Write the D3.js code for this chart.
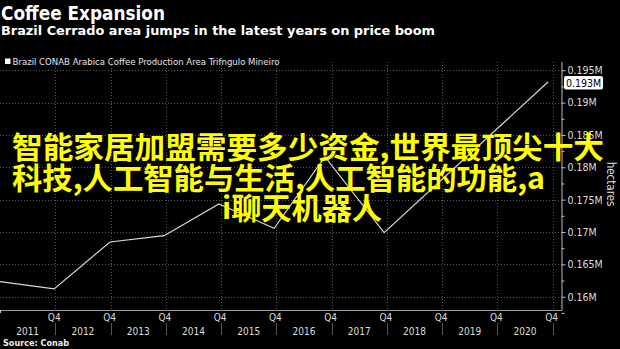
<!DOCTYPE html>
<html>
<head>
<meta charset="utf-8">
<script src="https://cdn.jsdelivr.net/npm/d3@7"></script>
<style>
  html, body { margin: 0; padding: 0; background: #000; }
  svg { display: block; }
</style>
</head>
<body>
<svg id="chart" width="620" height="349"></svg>
<script>
// Brazil CONAB arabica coffee area, Triângulo Mineiro (hectares)
const periods  = [2011.0, 2011.98, 2012.99, 2013.97, 2014.96, 2015.96, 2016.88, 2017.95, 2020.92];
const hectares = [162320, 161210, 168450, 169430, 174330, 170570, 181640, 169890, 193230];

const yearLabels = ["2011", "2012", "2013", "2014", "2015", "2016", "2017", "2018", "2019", "2020"];
const quarterLabel = "Q4";
const yTickValues = [160000, 165000, 170000, 175000, 180000, 185000, 190000, 195000];
const yMinorValues = [157500, 162500, 167500, 172500, 177500, 182500, 187500, 192500];

const titleText = "Coffee Expansion";
const subtitleText = "Brazil Cerrado area jumps in the latest years on price boom";
const legendText = "Brazil CONAB Arabica Coffee Production Area Trifngulo Mineiro";
const sourceText = "Source: Conab";
const unitText = "hectares";
const overlayLines = [
  "智能家居加盟需要多少资金,世界最顶尖十大",
  "科技,人工智能与生活,人工智能的功能,a",
  "i聊天机器人"
];

const svg = d3.select("#chart");
const W = 620, H = 349;
const plot = { left: 0, right: 561.5, top: 62, bottom: 310 };
const uiFont = "'DejaVu Sans Condensed', 'DejaVu Sans', sans-serif";

svg.append("rect").attr("width", W).attr("height", H).attr("fill", "#000");

const x = d3.scaleLinear().domain([2011.0, 2021.16]).range([plot.left, plot.right]);
const y = d3.scaleLinear().domain([157944, 196275]).range([plot.bottom, plot.top]);

// Headings
svg.append("text").attr("x", 1).attr("y", 20)
  .attr("font-family", uiFont).attr("font-weight", "bold").attr("font-size", 20)
  .attr("fill", "#fff").attr("textLength", 164).attr("lengthAdjust", "spacingAndGlyphs")
  .text(titleText);
svg.append("text").attr("x", 1).attr("y", 35)
  .attr("font-family", uiFont).attr("font-weight", "bold").attr("font-size", 12.5)
  .attr("fill", "#fff").attr("textLength", 434).attr("lengthAdjust", "spacingAndGlyphs")
  .text(subtitleText);

// Legend
svg.append("rect").attr("x", 5).attr("y", 58.5).attr("width", 5.5).attr("height", 5.5).attr("fill", "#fff");
svg.append("text").attr("x", 12.5).attr("y", 64.5)
  .attr("font-family", uiFont).attr("font-size", 8.5)
  .attr("fill", "#e6e6e6").attr("textLength", 267).attr("lengthAdjust", "spacingAndGlyphs")
  .text(legendText);

// Grid
const grid = svg.append("g").attr("stroke", "#555").attr("stroke-width", 1)
  .attr("stroke-dasharray", "1,2").attr("shape-rendering", "crispEdges");
grid.selectAll("line.h").data(yTickValues).join("line").attr("class", "h")
  .attr("x1", plot.left).attr("x2", plot.right)
  .attr("y1", d => Math.round(y(d)) + 0.5).attr("y2", d => Math.round(y(d)) + 0.5);
const yearEnds = yearLabels.map(d => +d + 1);
grid.selectAll("line.v").data(yearEnds).join("line").attr("class", "v")
  .attr("y1", plot.top).attr("y2", plot.bottom)
  .attr("x1", d => Math.round(x(d)) + 0.5).attr("x2", d => Math.round(x(d)) + 0.5);

// Series line
const line = d3.line().x((d, i) => x(periods[i])).y(d => y(d));
svg.append("path").datum(hectares)
  .attr("fill", "none").attr("stroke", "#d8d8d8").attr("stroke-width", 1.2)
  .attr("stroke-linejoin", "miter").attr("d", line);

// Right axis
const fmtM = v => (+(v / 1e6).toFixed(3)) + "M";
const yAxis = d3.axisRight(y).tickValues(yTickValues).tickSize(4).tickPadding(2).tickFormat(fmtM);
const gy = svg.append("g").attr("transform", `translate(${plot.right},0)`).call(yAxis);
gy.select(".domain").attr("stroke", "#bbb").attr("d", `M0.5,${plot.top}V${plot.bottom}`);
gy.selectAll(".tick line").attr("stroke", "#bbb");
gy.selectAll(".tick text").attr("fill", "#ddd").attr("font-family", uiFont).attr("font-size", 10.5);
const gyMinor = svg.append("g").attr("transform", `translate(${plot.right},0)`)
  .call(d3.axisRight(y).tickValues(yMinorValues).tickSize(3).tickFormat(""));
gyMinor.select(".domain").remove();
gyMinor.selectAll(".tick line").attr("stroke", "#bbb");

// Unit label
svg.append("text").attr("transform", "translate(607,184) rotate(90)")
  .attr("text-anchor", "middle").attr("font-family", uiFont).attr("font-size", 11.5)
  .attr("fill", "#ddd").text(unitText);

// Last value marker label
const lastVal = hectares[hectares.length - 1];
const ly = y(lastVal) + 1;
svg.append("rect").attr("x", 564).attr("y", ly - 6.8).attr("width", 39).attr("height", 13.5)
  .attr("rx", 2).attr("fill", "#fff");
svg.append("text").attr("x", 566).attr("y", ly + 3.8)
  .attr("font-family", uiFont).attr("font-size", 10.5).attr("fill", "#000").text(fmtM(lastVal));

// Bottom axis
svg.append("line").attr("x1", plot.left).attr("x2", plot.right + 0.5)
  .attr("y1", plot.bottom + 0.5).attr("y2", plot.bottom + 0.5)
  .attr("stroke", "#999").attr("stroke-width", 1);
svg.append("line").attr("x1", 0.5).attr("x2", 0.5).attr("y1", plot.bottom).attr("y2", plot.bottom + 3)
  .attr("stroke", "#ccc");
const gx = svg.append("g");
gx.selectAll("text.q").data(yearEnds).join("text").attr("class", "q")
  .attr("x", d => x(d) - 1).attr("y", 320.5).attr("text-anchor", "middle")
  .attr("font-family", uiFont).attr("font-size", 10).attr("fill", "#ddd").text(quarterLabel);
gx.selectAll("line.sep").data(yearEnds).join("line").attr("class", "sep")
  .attr("x1", d => Math.round(x(d)) + 0.5).attr("x2", d => Math.round(x(d)) + 0.5)
  .attr("y1", 323).attr("y2", 335).attr("stroke", "#555");
gx.selectAll("text.yr").data(yearLabels).join("text").attr("class", "yr")
  .attr("x", d => x(+d + 0.5)).attr("y", 334.5).attr("text-anchor", "middle")
  .attr("font-family", uiFont).attr("font-size", 10).attr("fill", "#ddd").text(d => d);

// Source
svg.append("text").attr("x", 3).attr("y", 346)
  .attr("font-family", uiFont).attr("font-weight", "bold").attr("font-size", 9)
  .attr("fill", "#eee").text(sourceText);

// Overlay caption
const cap = svg.append("g").attr("font-family", "'Noto Sans CJK SC', sans-serif")
  .attr("font-weight", "bold").attr("font-size", 30).attr("fill", "#ffff00");
const capPos = [{ x: 12, y: 158, w: 592 }, { x: 12, y: 188.5, w: 533 }, { x: 222, y: 219, w: 160 }];
cap.selectAll("text").data(overlayLines).join("text")
  .attr("x", (d, i) => capPos[i].x).attr("y", (d, i) => capPos[i].y)
  .attr("textLength", (d, i) => capPos[i].w).attr("lengthAdjust", "spacingAndGlyphs")
  .text(d => d);
</script>
</body>
</html>
